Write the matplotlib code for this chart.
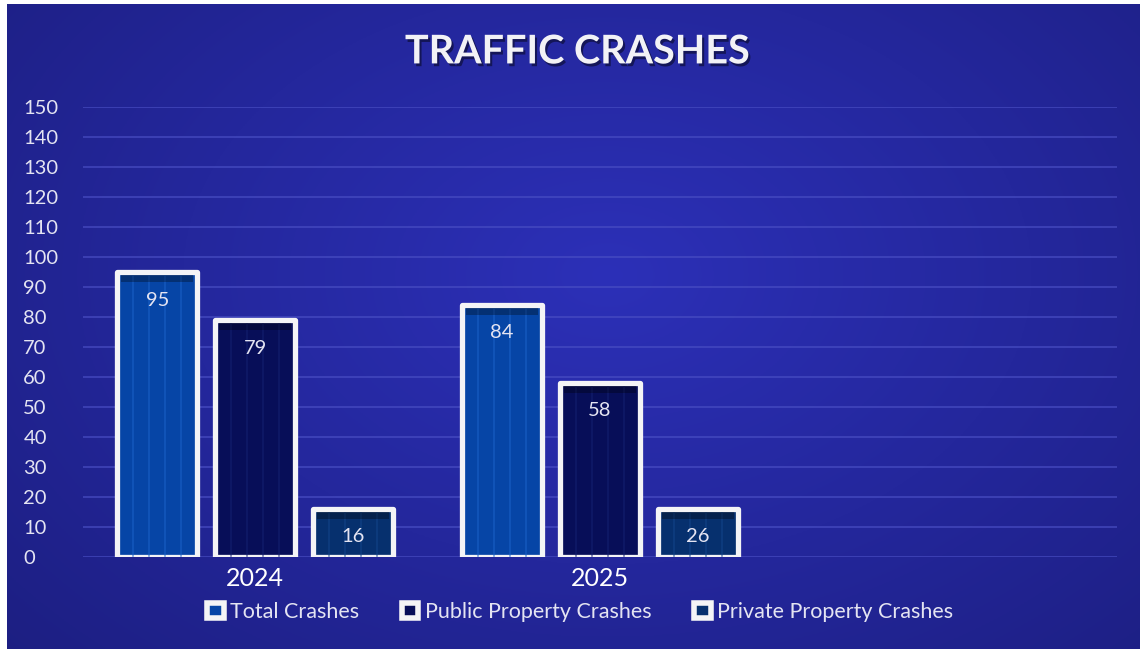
import numpy as np
import matplotlib.pyplot as plt
import matplotlib.patheffects as pe
from matplotlib.patches import Rectangle

plt.rcParams['font.family'] = ['Lato', 'DejaVu Sans']

# data
years = ['2024', '2025', '']
series = ['Total Crashes', 'Public Property Crashes', 'Private Property Crashes']
total = [95, 84, 0]
public = [79, 58, 0]
private = [16, 16, 0]
# labels as printed on the bars
total_lbl = ['95', '84', '']
public_lbl = ['79', '58', '']
private_lbl = ['16', '26', '']

colors = ['#0645a6', '#070e58', '#06306e']
stripe = ['#1a62c8', '#142070', '#12458a']
txt = '#e4e4f2'

fig = plt.figure(figsize=(11.4, 6.49), dpi=100)
fig.patch.set_facecolor('white')

# background with radial gradient
bg = fig.add_axes([7 / 1140, 0, 1 - 7 / 1140, 1 - 4 / 649])
bg.axis('off')
yy, xx = np.mgrid[0:1:300j, 0:1:500j]
r = np.sqrt(((xx - 0.53) / 0.75) ** 2 + ((yy - 0.42) / 0.9) ** 2)
r = np.clip(r, 0, 1)
c_in = np.array([44, 48, 184]) / 255
c_out = np.array([28, 30, 128]) / 255
img = c_in[None, None, :] * (1 - r[..., None]) + c_out[None, None, :] * r[..., None]
bg.imshow(img, aspect='auto', extent=[0, 1, 0, 1], origin='upper')
bg.set_xlim(0, 1)
bg.set_ylim(0, 1)

ax = fig.add_axes([83 / 1140, (649 - 557) / 649, (1117 - 83) / 1140, 450 / 649])
ax.set_facecolor('none')

x = np.arange(len(years))
w = 0.232
step = 0.284
vals = [total, public, private]
lbls = [total_lbl, public_lbl, private_lbl]

for i, (v, lb) in enumerate(zip(vals, lbls)):
    pos = x + (i - 1) * step
    for j in range(len(years)):
        if v[j] == 0:
            continue
        ax.bar(pos[j], v[j], width=w, color=colors[i], edgecolor='#f4f4f6',
               linewidth=3.8, zorder=3, joinstyle='round')
        # faint vertical stripes inside the bar
        for k in (-0.3, -0.1, 0.1, 0.3):
            ax.plot([pos[j] + k * w, pos[j] + k * w], [0.5, v[j] - 1.2],
                    color=stripe[i], lw=1.2, alpha=0.6, zorder=4)
        # dark bevel at the top
        ax.bar(pos[j], 2.4, bottom=v[j] - 3.3, width=w * 0.9,
               color='black', alpha=0.3, zorder=4, linewidth=0)
        ax.text(pos[j], v[j] - 6.5, lb[j], ha='center', va='top',
                color=txt, fontsize=14.5, zorder=5)

ax.set_ylim(0, 150)
ax.set_xlim(-0.5, 2.5)
ax.set_yticks(range(0, 151, 10))
ax.set_xticks(x)
ax.set_xticklabels(years, fontsize=18, color='white')
ax.tick_params(axis='y', labelsize=14.5, labelcolor=txt, length=0, pad=43)
ax.tick_params(axis='x', length=0, pad=7)
for lab in ax.get_yticklabels():
    lab.set_horizontalalignment('left')
ax.grid(axis='y', color='#4a4fc4', lw=1.2, alpha=0.75, zorder=0)
for s in ax.spines.values():
    s.set_visible(False)

fig.text(0.507, 0.92, 'TRAFFIC CRASHES', ha='center', va='center',
         fontsize=28.5, fontweight='bold', color='#f2f2f6',
         path_effects=[pe.withSimplePatchShadow(offset=(1.5, -2), shadow_rgbFace='black', alpha=0.45)])

handles = [Rectangle((0, 0), 1, 1, facecolor=c, edgecolor='#f4f4f6', linewidth=4,
                     joinstyle='round') for c in colors]
leg = fig.legend(handles, series, loc='center', bbox_to_anchor=(0.509, 0.057), ncol=3,
                 frameon=False, fontsize=15.5, handlelength=0.75, handleheight=0.75,
                 handletextpad=0.3, columnspacing=2.0)
for t in leg.get_texts():
    t.set_color(txt)

fig.savefig('out.png', dpi=100)
